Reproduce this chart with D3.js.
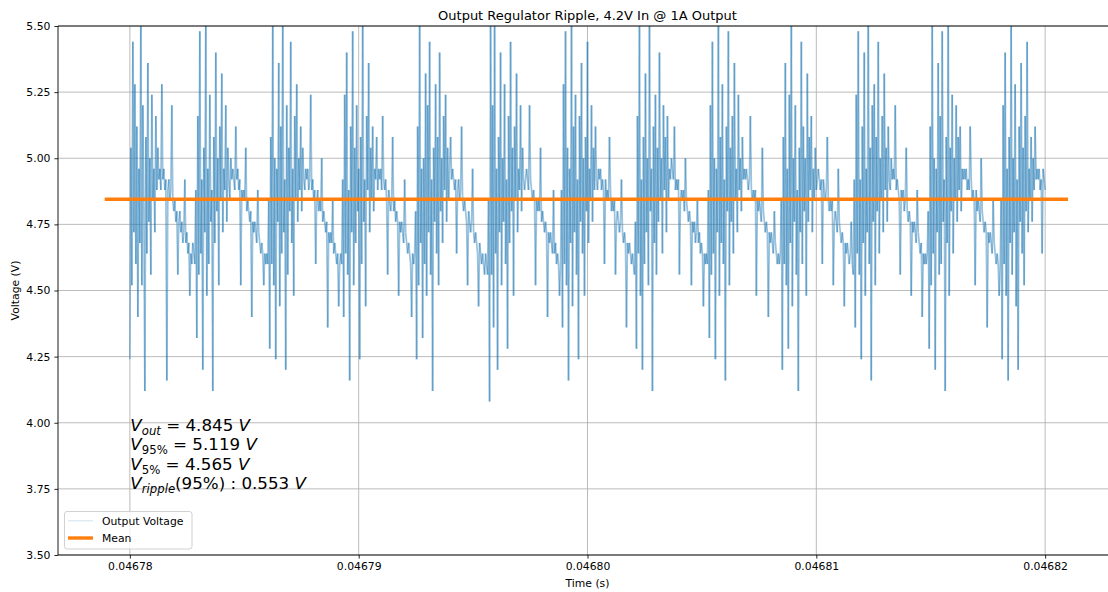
<!DOCTYPE html>
<html><head><meta charset="utf-8">
<script src="https://cdn.jsdelivr.net/npm/d3@7"></script>
<style>
html,body{margin:0;padding:0;background:#fff;}
svg{display:block;font-family:"DejaVu Sans",sans-serif;}
</style></head><body>
<svg id="chart" width="1108" height="592"></svg>
<script>
// ---- data ----
const voltage = [
4.24,5.04,4.52,5.44,4.72,5.28,4.60,5.12,4.40,4.96,4.68,5.56,4.52,5.20,4.80,4.12,5.08,4.64,5.36,4.76,5.00,4.56,5.24,4.84,4.96,4.72,5.16,4.88,5.04,4.92,
4.96,4.88,5.28,4.92,4.96,4.88,4.92,4.16,4.88,4.92,4.84,4.88,5.20,4.84,4.80,4.84,4.76,4.80,4.56,4.76,4.80,4.72,4.76,4.68,4.72,4.92,4.68,4.72,4.64,4.68,4.48,4.64,4.60,4.68,4.64,4.60,
4.88,4.32,5.16,4.56,5.48,4.64,4.92,4.20,5.04,4.72,5.56,4.48,4.96,4.60,5.24,4.76,4.88,4.12,5.08,4.68,5.40,4.80,5.00,4.52,5.12,4.84,5.32,4.72,4.96,4.88,5.20,4.76,5.04,4.92,4.84,5.00,4.92,
4.96,4.92,4.88,5.12,4.92,4.96,4.88,4.92,4.52,4.88,4.84,4.88,4.84,5.04,4.80,4.84,4.80,4.76,4.80,4.40,4.76,4.72,4.76,4.72,4.68,4.88,4.72,4.68,4.64,4.68,4.64,4.52,4.64,4.60,4.64,4.60,
4.84,4.28,5.08,4.60,5.52,4.52,5.00,4.24,4.96,4.76,5.36,4.44,5.12,4.64,5.56,4.72,4.92,4.20,5.20,4.56,5.04,4.80,5.44,4.68,4.96,4.48,5.16,4.84,5.28,4.76,5.00,4.88,5.12,4.80,5.04,4.92,4.88,4.96,
4.92,4.96,4.88,4.92,5.24,4.88,4.92,4.84,4.88,4.60,4.84,4.88,4.80,4.84,4.80,5.00,4.76,4.80,4.76,4.72,4.76,4.36,4.72,4.68,4.72,4.68,4.84,4.64,4.68,4.64,4.60,4.64,4.44,4.60,4.64,4.60,
4.92,4.40,5.24,4.64,5.40,4.56,4.88,4.16,5.12,4.72,5.48,4.52,5.04,4.68,5.20,4.80,4.96,4.24,5.08,4.60,5.56,4.76,4.92,4.44,5.16,4.88,5.36,4.72,5.04,4.84,5.12,4.80,4.96,4.92,5.08,4.88,4.96,
4.92,4.96,4.88,5.16,4.92,4.88,4.92,4.84,4.56,4.88,4.84,4.80,4.84,5.08,4.80,4.84,4.76,4.80,4.76,4.48,4.76,4.72,4.76,4.72,4.68,4.92,4.72,4.68,4.64,4.68,4.64,4.60,4.40,4.64,4.60,4.64,
4.80,4.24,5.12,4.52,5.56,4.68,4.96,4.32,5.00,4.60,5.32,4.48,5.20,4.72,5.44,4.56,4.92,4.12,5.04,4.76,5.28,4.64,5.08,4.52,5.40,4.80,5.00,4.68,5.16,4.88,5.24,4.76,5.04,4.84,4.96,5.08,4.92,
4.96,4.92,4.88,4.92,4.64,4.88,4.92,4.84,4.88,5.12,4.84,4.80,4.84,4.80,4.76,4.52,4.80,4.76,4.72,4.76,4.96,4.72,4.68,4.72,4.68,4.64,4.44,4.68,4.64,4.60,4.64,4.60,4.56,4.64,4.60,4.56,
4.84,4.08,5.52,4.56,5.20,4.36,5.56,4.64,4.96,4.20,5.08,4.72,5.40,4.52,5.00,4.76,5.28,4.60,4.92,4.28,5.16,4.68,5.44,4.80,5.04,4.48,5.12,4.84,5.32,4.72,4.96,4.88,5.20,4.80,5.04,4.92,4.88,
4.92,4.96,4.92,4.88,5.20,4.92,4.88,4.84,4.88,4.84,4.52,4.84,4.80,4.84,4.80,5.04,4.76,4.80,4.76,4.72,4.76,4.72,4.40,4.72,4.68,4.72,4.68,4.64,4.88,4.64,4.68,4.60,4.64,4.60,4.48,4.60,
4.88,4.36,5.28,4.60,5.48,4.52,5.04,4.16,4.96,4.68,5.56,4.44,5.12,4.72,5.24,4.56,4.92,4.24,5.16,4.76,5.36,4.64,5.00,4.48,5.08,4.80,5.44,4.68,4.96,4.84,5.20,4.76,5.04,4.88,5.12,4.92,4.88,4.96,
4.92,4.96,4.88,4.92,4.88,4.60,4.92,4.84,4.88,4.84,5.08,4.88,4.80,4.84,4.80,4.84,4.56,4.76,4.80,4.76,4.72,4.76,4.92,4.72,4.68,4.72,4.68,4.36,4.68,4.64,4.68,4.64,4.60,4.64,4.60,4.56,
4.76,4.28,5.16,4.64,5.52,4.48,4.92,4.20,5.08,4.60,5.32,4.72,5.00,4.52,5.56,4.80,4.96,4.12,5.12,4.68,5.24,4.56,5.04,4.76,5.40,4.84,5.00,4.64,5.20,4.88,5.08,4.72,5.16,4.84,4.96,4.92,5.00,
4.96,4.92,5.12,4.88,4.92,4.88,4.92,4.56,4.84,4.88,4.84,4.88,4.80,5.00,4.84,4.80,4.76,4.80,4.76,4.52,4.76,4.72,4.76,4.68,4.72,4.84,4.68,4.72,4.64,4.68,4.64,4.44,4.64,4.60,4.64,4.60,
4.88,4.32,5.20,4.56,5.44,4.64,5.00,4.24,4.96,4.72,5.56,4.48,5.08,4.68,5.28,4.60,4.92,4.16,5.12,4.80,5.48,4.52,5.04,4.76,5.16,4.64,5.36,4.84,4.96,4.72,5.24,4.88,5.00,4.80,5.08,4.92,4.96,
4.92,4.96,4.92,4.88,4.92,5.16,4.88,4.84,4.88,4.84,4.88,4.48,4.84,4.80,4.84,4.80,4.76,5.04,4.80,4.76,4.72,4.76,4.72,4.40,4.72,4.68,4.72,4.68,4.64,4.80,4.68,4.64,4.60,4.64,4.60,4.64,
4.84,4.20,5.08,4.60,5.36,4.52,4.96,4.28,5.24,4.68,5.52,4.44,5.00,4.76,5.20,4.56,4.88,4.12,5.04,4.72,5.44,4.60,5.12,4.80,5.00,4.48,5.32,4.76,5.08,4.88,5.16,4.72,4.96,4.84,5.04,4.88,4.92,
4.96,4.92,4.88,4.92,4.60,4.92,4.88,4.84,4.88,5.08,4.84,4.80,4.84,4.80,4.84,4.52,4.76,4.80,4.76,4.72,4.96,4.76,4.72,4.68,4.72,4.68,4.44,4.68,4.64,4.68,4.64,4.60,4.64,4.76,4.60,4.56,
4.92,4.36,5.24,4.64,5.48,4.56,4.92,4.24,5.12,4.68,5.40,4.48,4.96,4.72,5.56,4.60,5.04,4.16,5.20,4.76,5.28,4.52,5.08,4.80,5.44,4.64,5.00,4.84,5.16,4.72,5.32,4.88,5.04,4.76,5.12,4.92,4.88,5.00,
4.92,4.96,4.92,5.20,4.88,4.92,4.88,4.84,4.56,4.88,4.84,4.88,4.80,4.84,5.04,4.80,4.76,4.80,4.76,4.48,4.76,4.72,4.76,4.72,4.68,4.88,4.72,4.68,4.64,4.68,4.40,4.64,4.60,4.64,4.60,4.64,
4.80,4.28,5.12,4.52,5.52,4.64,5.00,4.20,4.96,4.72,5.36,4.56,5.16,4.60,5.48,4.76,4.92,4.12,5.08,4.68,5.56,4.48,5.04,4.80,5.24,4.64,5.00,4.84,5.20,4.76,5.08,4.88,5.12,4.80,4.96,4.92,4.96,
4.92,4.96,4.88,4.92,4.88,5.12,4.92,4.84,4.88,4.84,4.52,4.88,4.80,4.84,4.80,4.76,5.00,4.80,4.76,4.72,4.76,4.72,4.36,4.72,4.68,4.72,4.68,4.64,4.84,4.68,4.64,4.60,4.64,4.60,4.48,4.60,
4.84,4.24,5.20,4.60,5.40,4.48,4.96,4.16,5.08,4.68,5.52,4.56,5.00,4.72,5.28,4.44,4.92,4.20,5.12,4.76,5.36,4.64,5.04,4.52,5.16,4.80,5.44,4.72,4.96,4.84,5.08,4.76,5.00,4.88,5.12,4.92,4.96,
4.92,4.96,4.88,4.92,4.64,4.96,4.92,4.88
];
const timeStart = 0.04678;   // s, first sample
const timeEnd = 0.04682;     // s, last sample
const meanVoltage = 4.845;
const meanSpan = [0.0467789, 0.0468210];
const xTicks = [0.04678, 0.04679, 0.04680, 0.04681, 0.04682];
const xTickLabels = ["0.04678", "0.04679", "0.04680", "0.04681", "0.04682"];
const yTicks = [3.50, 3.75, 4.00, 4.25, 4.50, 4.75, 5.00, 5.25, 5.50];
const yTickLabels = ["3.50", "3.75", "4.00", "4.25", "4.50", "4.75", "5.00", "5.25", "5.50"];
const titleText = "Output Regulator Ripple, 4.2V In @ 1A Output";
const xLabelText = "Time (s)";
const yLabelText = "Voltage (V)";
const legendLabels = ["Output Voltage", "Mean"];
// annotation: [text, style] ; i = italic, s = subscript
const statLines = [
  [["V","i"],["out","is"],[" = 4.845 ",""],["V","i"]],
  [["V","i"],["95%","s"],[" = 5.119 ",""],["V","i"]],
  [["V","i"],["5%","s"],[" = 4.565 ",""],["V","i"]],
  [["V","i"],["ripple","is"],["(95%) : 0.553 ",""],["V","i"]]
];

// ---- layout ----
const L = 58, R = 1117, T = 26, B = 555;
const svg = d3.select("#chart");
svg.append("rect").attr("width",1108).attr("height",592).attr("fill","#fff");

const x = d3.scaleLinear().domain([0.04677686, 0.04682314]).range([L, R]);
const y = d3.scaleLinear().domain([3.5, 5.5]).range([B, T]);
const dt = (timeEnd - timeStart) / (voltage.length - 1);
const pts = voltage.map((v, i) => [timeStart + i * dt, v]);
const segs = d3.pairs(pts);

svg.append("defs").append("clipPath").attr("id","clip")
  .append("rect").attr("x",L).attr("y",T).attr("width",R-L).attr("height",B-T);

// grid
const grid = svg.append("g");
grid.selectAll("line.gx").data(xTicks).join("line")
  .attr("x1",d=>x(d)).attr("x2",d=>x(d)).attr("y1",T).attr("y2",B)
  .attr("stroke","#b0b0b0").attr("stroke-width",0.85);
grid.selectAll("line.gy").data(yTicks).join("line")
  .attr("x1",L).attr("x2",R).attr("y1",d=>y(d)).attr("y2",d=>y(d))
  .attr("stroke","#b0b0b0").attr("stroke-width",0.85);

// data: each segment drawn on its own so that overlaps build up like a dense trace
const plot = svg.append("g").attr("clip-path","url(#clip)");
plot.append("g").selectAll("line").data(segs).join("line")
  .attr("x1",d=>x(d[0][0])).attr("y1",d=>y(d[0][1]))
  .attr("x2",d=>x(d[1][0])).attr("y2",d=>y(d[1][1]))
  .attr("stroke","#1f77b4").attr("stroke-opacity",0.45)
  .attr("stroke-width",1.7).attr("stroke-linecap","butt");
plot.append("line")
  .attr("x1",x(meanSpan[0])).attr("x2",x(meanSpan[1]))
  .attr("y1",y(meanVoltage)).attr("y2",y(meanVoltage))
  .attr("stroke","#ff7f0e").attr("stroke-width",3.4);

// axes
const fs = "10.8px";
const xAxis = svg.append("g").attr("transform",`translate(0,${B})`)
  .call(d3.axisBottom(x).tickValues(xTicks).tickFormat((d,i)=>xTickLabels[i]).tickSize(3.6).tickPadding(4).tickSizeOuter(0));
const yAxis = svg.append("g").attr("transform",`translate(${L},0)`)
  .call(d3.axisLeft(y).tickValues(yTicks).tickFormat((d,i)=>yTickLabels[i]).tickSize(3.6).tickPadding(4).tickSizeOuter(0));
[xAxis, yAxis].forEach(g => {
  g.select(".domain").remove();
  g.selectAll("text").attr("font-family","DejaVu Sans").attr("font-size",fs).attr("fill","#000");
  g.selectAll("line").attr("stroke","#000").attr("stroke-width",0.85);
});
// spines
const sp = svg.append("g").attr("stroke","#000").attr("stroke-width",0.9);
sp.append("line").attr("x1",L).attr("x2",L).attr("y1",T).attr("y2",B);
sp.append("line").attr("x1",L).attr("x2",R).attr("y1",T).attr("y2",T);
sp.append("line").attr("x1",L).attr("x2",R).attr("y1",B).attr("y2",B);
sp.append("line").attr("x1",R).attr("x2",R).attr("y1",T).attr("y2",B);

// labels
svg.append("text").attr("x",(L+R)/2).attr("y",19.5).attr("text-anchor","middle")
  .attr("font-size","13px").text(titleText);
svg.append("text").attr("x",(L+R)/2).attr("y",587).attr("text-anchor","middle")
  .attr("font-size",fs).text(xLabelText);
svg.append("text").attr("transform",`translate(18.5,${(T+B)/2}) rotate(-90)`).attr("text-anchor","middle")
  .attr("font-size",fs).text(yLabelText);

// annotation
const ann = svg.append("g");
statLines.forEach((parts, li) => {
  const t = ann.append("text").attr("x", x(timeStart) + 0.5).attr("y", 430.7 + li * 19.45)
    .attr("font-size","16.7px").style("white-space","pre");
  let shifted = false;
  parts.forEach(([txt, st]) => {
    const sp = t.append("tspan").text(txt);
    if (st.includes("i")) sp.attr("font-style","italic");
    if (st.includes("s")) {
      sp.attr("font-size","11.7px");
      if (!shifted) { sp.attr("dy", 4); shifted = true; }
    } else if (shifted) { sp.attr("dy", -4); shifted = false; }
  });
});

// legend
const lg = svg.append("g");
lg.append("rect").attr("x",64.5).attr("y",511.5).attr("width",127.5).attr("height",37.5)
  .attr("rx",2.5).attr("fill","#fff").attr("fill-opacity",0.8).attr("stroke","#cccccc").attr("stroke-width",0.9);
const legendStyles = [
  {color:"#1f77b4", opacity:0.2, width:1.1},
  {color:"#ff7f0e", opacity:1, width:3.4}
];
legendLabels.forEach((lab, i) => {
  const yy = 520.8 + i * 17.2;
  lg.append("line").attr("x1",68).attr("x2",93).attr("y1",yy).attr("y2",yy)
    .attr("stroke",legendStyles[i].color).attr("stroke-opacity",legendStyles[i].opacity)
    .attr("stroke-width",legendStyles[i].width);
  lg.append("text").attr("x",102).attr("y",yy+3.9).attr("font-size",fs).text(lab);
});
</script>
</body></html>
